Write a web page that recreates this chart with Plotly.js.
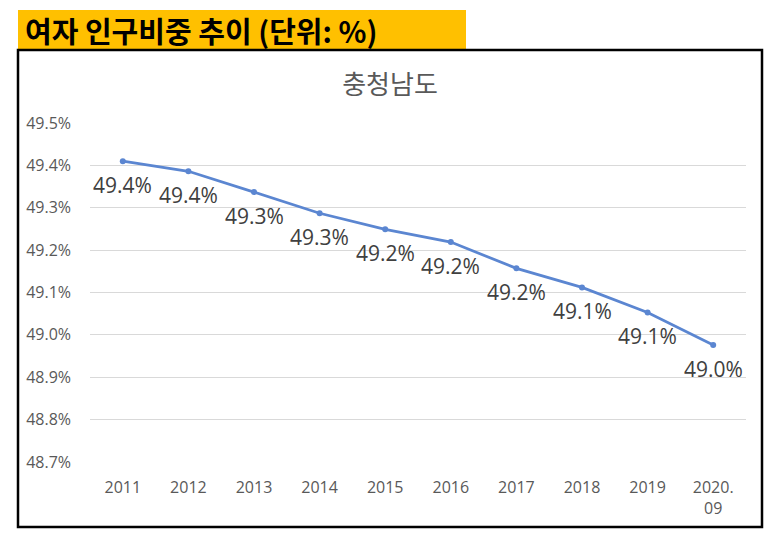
<!DOCTYPE html>
<html>
<head>
<meta charset="utf-8">
<script src="https://cdn.plot.ly/plotly-3.0.1.min.js"></script>
<style>
  body { margin: 0; background: #fff; }
  #chart { width: 770px; height: 541px; }
</style>
</head>
<body>
<div id="chart"></div>
<script>
  // 충청남도 여자 인구비중 (%)
  var years = ['2011', '2012', '2013', '2014', '2015', '2016', '2017', '2018', '2019', '2020.<br>09'];
  var femaleShare = [49.41, 49.386, 49.337, 49.287, 49.249, 49.219, 49.157, 49.112, 49.053, 48.976];
  var yTicks = [48.7, 48.8, 48.9, 49.0, 49.1, 49.2, 49.3, 49.4, 49.5];
  var yTickText = yTicks.map(function (v) { return v.toFixed(1) + '%'; });

  var W = 770, H = 541;
  var L = 90, R = 24, T = 123, B = 79;
  var pw = W - L - R, ph = H - T - B;
  // pixel -> paper coordinates
  function px(x) { return (x - L) / pw; }
  function py(y) { return 1 - (y - T) / ph; }

  var krFont = '"Noto Sans CJK KR", "Noto Sans", sans-serif';
  var numFont = '"Open Sans", "Noto Sans CJK KR", sans-serif';

  var data = [{
    x: years,
    y: femaleShare,
    type: 'scatter',
    mode: 'lines+markers',
    line: {color: '#5B86D1', width: 2.75},
    marker: {color: '#5B86D1', size: 6},
    hoverinfo: 'skip'
  }];

  // data labels below each point (x = category index, otherwise '2011' reads as a number)
  var labels = years.map(function (yr, i) {
    return {
      x: i, y: femaleShare[i], xref: 'x', yref: 'y',
      text: femaleShare[i].toFixed(1) + '%',
      showarrow: false, yshift: -24,
      xanchor: 'center', yanchor: 'middle',
      font: {family: numFont, size: 21, color: '#404040'}
    };
  });

  var layout = {
    width: W,
    height: H,
    margin: {l: L, r: R, t: T, b: B},
    paper_bgcolor: '#fff',
    plot_bgcolor: '#fff',
    showlegend: false,
    font: {family: krFont},
    title: {
      text: '충청남도',
      font: {family: krFont, size: 26, color: '#595959'},
      x: 390 / W, xanchor: 'center',
      y: 1 - 85 / H, yanchor: 'middle'
    },
    xaxis: {
      type: 'category',
      categoryarray: years,
      range: [-0.5, years.length - 0.5],
      automargin: false,
      showgrid: false,
      zeroline: false,
      showline: false,
      tickfont: {family: numFont, size: 16, color: '#595959'},
      ticklabelstandoff: 14
    },
    yaxis: {
      range: [48.7, 49.5],
      automargin: false,
      tickmode: 'array',
      tickvals: yTicks,
      ticktext: yTickText,
      showgrid: true,
      gridcolor: '#D9D9D9',
      gridwidth: 1,
      zeroline: false,
      showline: false,
      tickfont: {family: numFont, size: 16, color: '#595959'},
      ticklabelstandoff: 18
    },
    shapes: [
      {type: 'rect', xref: 'paper', yref: 'paper', layer: 'below',
       x0: px(18), x1: px(466), y0: py(50), y1: py(10),
       fillcolor: '#FFC000', line: {width: 0}},
      {type: 'rect', xref: 'paper', yref: 'paper',
       x0: px(18), x1: px(762), y0: py(527), y1: py(50),
       line: {color: '#000', width: 2.5}}
    ],
    annotations: labels.concat([{
      xref: 'paper', yref: 'paper',
      x: px(23), y: py(30), xanchor: 'left', yanchor: 'middle',
      text: '<b>여자 인구비중 추이 (단위: %)</b>',
      showarrow: false,
      font: {family: krFont, size: 29, color: '#000'}
    }])
  };

  Plotly.newPlot('chart', data, layout, {displayModeBar: false, responsive: false});
</script>
</body>
</html>
